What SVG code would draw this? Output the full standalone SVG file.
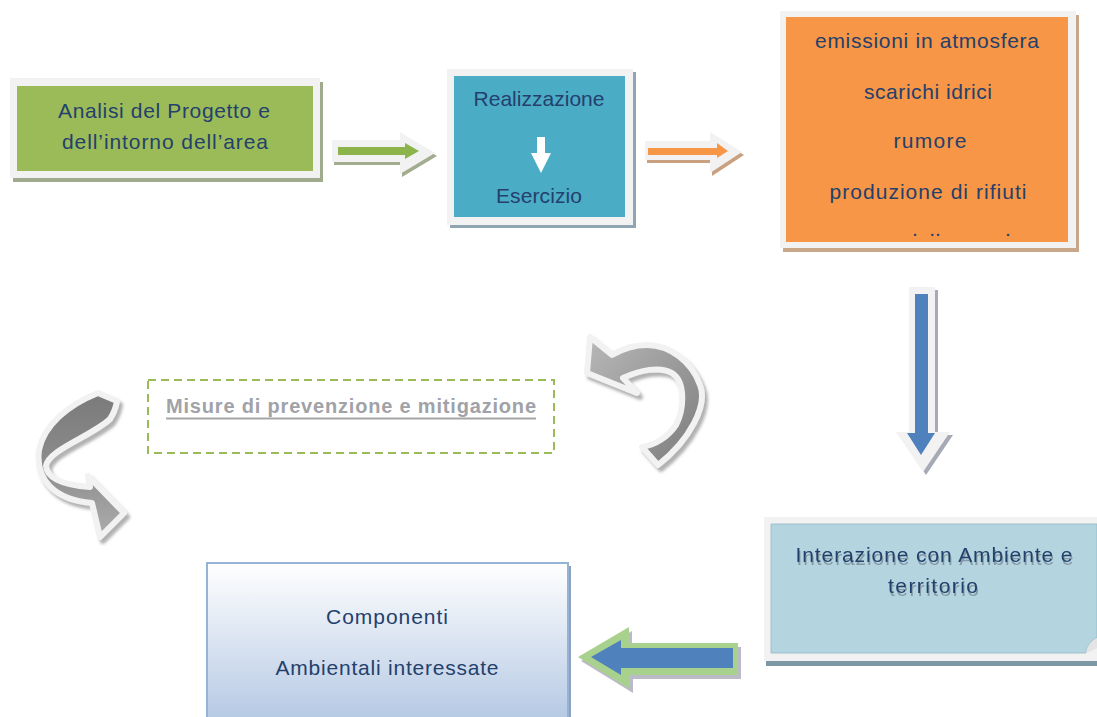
<svg xmlns="http://www.w3.org/2000/svg" width="1097" height="717" viewBox="0 0 1097 717">
<defs>
<style>
.t{font-family:"Liberation Sans",Arial,sans-serif;font-size:21px;fill:#24406C;text-anchor:middle}
.frame{fill:#F2F2F2}
.curve{stroke:#F2F2F2;stroke-width:6;stroke-linejoin:round}
</style>
<filter id="ds" x="-20%" y="-20%" width="150%" height="150%">
<feDropShadow dx="3" dy="4" stdDeviation="1.5" flood-color="#7f7f7f" flood-opacity="0.6"/>
</filter>
<filter id="ts" x="-10%" y="-30%" width="120%" height="170%">
<feDropShadow dx="1" dy="3" stdDeviation="0.6" flood-color="#6F7F8C" flood-opacity="0.7"/>
</filter>
<linearGradient id="gComp" x1="0" y1="0" x2="0" y2="1">
<stop offset="0" stop-color="#FFFFFF"/><stop offset="1" stop-color="#B4C8E3"/>
</linearGradient>
<linearGradient id="gArrR" x1="0" y1="0" x2="1" y2="1">
<stop offset="0" stop-color="#B8B8B8"/><stop offset="1" stop-color="#7C7C7C"/>
</linearGradient>
<linearGradient id="gArrL" x1="0" y1="0" x2="0" y2="1">
<stop offset="0" stop-color="#7A7A7A"/><stop offset="0.5" stop-color="#8C8C8C"/><stop offset="1" stop-color="#ADADAD"/>
</linearGradient>
</defs>
<rect width="1097" height="717" fill="#FFFFFF"/>

<g id="node-analisi">
<rect x="13" y="82" width="310" height="100" fill="#A0AA8C"/>
<rect x="10" y="78" width="310" height="100" class="frame"/>
<rect x="17" y="86" width="296" height="85" fill="#9BBB59"/>
<text class="t" x="164" y="118" textLength="212">Analisi del Progetto e</text>
<text class="t" x="165" y="149" textLength="206">dell’intorno dell’area</text>
</g>

<g id="node-realizzazione">
<rect x="450" y="72" width="186" height="156" fill="#8FA5B2"/>
<rect x="447" y="69" width="186" height="156" class="frame"/>
<rect x="454" y="76" width="171" height="141" fill="#4BACC6"/>
<text class="t" x="539" y="106" textLength="131">Realizzazione</text>
<polygon points="537,137 545,137 545,153 551,153 541,173 531,153 537,153" fill="#FFFFFF"/>
<text class="t" x="539" y="203" textLength="86">Esercizio</text>
</g>

<g id="node-emissioni">
<rect x="783" y="15" width="296" height="237" fill="#C8A688"/>
<rect x="780" y="11" width="296" height="237" class="frame"/>
<rect x="786" y="17" width="282" height="225" fill="#F79646"/>
<text class="t" x="927" y="48" textLength="224">emissioni in atmosfera</text>
<text class="t" x="928" y="99" textLength="128">scarichi idrici</text>
<text class="t" x="930" y="148" textLength="73">rumore</text>
<text class="t" x="928" y="199" textLength="197">produzione di rifiuti</text>
<text class="t" y="236"><tspan x="915">.</tspan><tspan x="935">..</tspan><tspan x="1008">.</tspan></text>
</g>

<g id="node-misure">
<rect x="148" y="380" width="406" height="73" fill="none" stroke="#9BBB59" stroke-width="2" stroke-dasharray="8 5"/>
<text class="t" x="351" y="413" textLength="370" style="font-size:20px;font-weight:bold;fill:#A0A2A8">Misure di prevenzione e mitigazione</text>
<line x1="166" y1="418.5" x2="536" y2="418.5" stroke="#A6A6A6" stroke-width="2"/>
</g>

<g id="node-interazione">
<rect x="766" y="522" width="331" height="144" fill="#7D98A4"/>
<rect x="764" y="517" width="333" height="144" class="frame"/>
<path d="M771,524 H1097 V638 Q1088,641 1086,653 H771 Z" fill="#B4D5DF" stroke="#8FB7C5" stroke-width="0.8"/>
<path d="M1086,653 Q1088,642 1097,638 L1097,648 Q1092,651 1086,653 Z" fill="#E4E4E4"/>
<g filter="url(#ts)">
<text class="t" x="934" y="562" textLength="277">Interazione con Ambiente e</text>
<text class="t" x="933" y="593" textLength="90">territorio</text>
</g>
</g>

<g id="node-componenti">
<rect x="211" y="566" width="360" height="160" fill="#8FA3BF"/>
<rect x="207" y="563" width="361" height="160" fill="url(#gComp)" stroke="#95B3D7" stroke-width="2"/>
<text class="t" x="387" y="624" textLength="122">Componenti</text>
<text class="t" x="387" y="675" textLength="223">Ambientali interessate</text>
</g>

<g id="connectors">
<g id="arrow-green">
<polygon transform="translate(2,3)" points="332,140 400,140 400,132 435,153 400,174 400,162 332,162" fill="#A2AD90"/>
<polygon points="332,140 400,140 400,132 435,153 400,174 400,162 332,162" fill="#F2F2F2"/>
<polygon points="338,147 405,147 405,143 419,151 405,159 405,155 338,155" fill="#8DB44A"/>
</g>
<g id="arrow-orange">
<polygon transform="translate(2,3)" points="645,141 710,141 710,132 742,152 710,173 710,160 645,160" fill="#C9A080"/>
<polygon points="645,141 710,141 710,132 742,152 710,173 710,160 645,160" fill="#F2F2F2"/>
<polygon points="648,148 717,148 717,143 728,151 717,158 717,155 648,155" fill="#F79646"/>
</g>
<g id="arrow-down">
<polygon transform="translate(3,3)" points="909,287 935,287 935,432 950,432 923,472 896,432 909,432" fill="#A5AAB5"/>
<polygon points="909,287 935,287 935,432 950,432 923,472 896,432 909,432" fill="#F2F2F2"/>
<polygon points="915,294 928,294 928,433 935,433 921,455 907,433 915,433" fill="#4F81BD"/>
</g>
<g id="arrow-left">
<polygon transform="translate(3,4)" points="578,657 629,627 629,643 738,643 738,675 630,675 630,689" fill="#8C8CA4" opacity="0.6"/>
<polygon points="578,657 629,627 629,643 738,643 738,675 630,675 630,689" fill="#A9D18E"/>
<polygon points="591,657 621,640 621,648 733,648 733,668 621,668 621,675" fill="#4F81BD"/>
</g>
<g id="arrow-curve-right" filter="url(#ds)">
<path class="curve" fill="url(#gArrR)" d="M658,465 C690,440 708,405 700,385 C692,362 670,345 647,345 C635,345 622,349 612,355 L590,337 L587,373 L637,393 L623,378 C640,370 660,366 672,373 C686,382 684,410 676,425 C668,437 655,445 642,447 Z"/>
</g>
<g id="arrow-curve-left" filter="url(#ds)">
<path class="curve" fill="url(#gArrL)" d="M98,393 C68,405 44,425 39,450 C35,480 55,500 92,503 L100,537 L124,513 L88,476 L90,487 C62,485 47,478 46,466 C48,450 92,436 110,419 C114,413 116,407 117,401 Z"/>
</g>
</g>
</svg>
